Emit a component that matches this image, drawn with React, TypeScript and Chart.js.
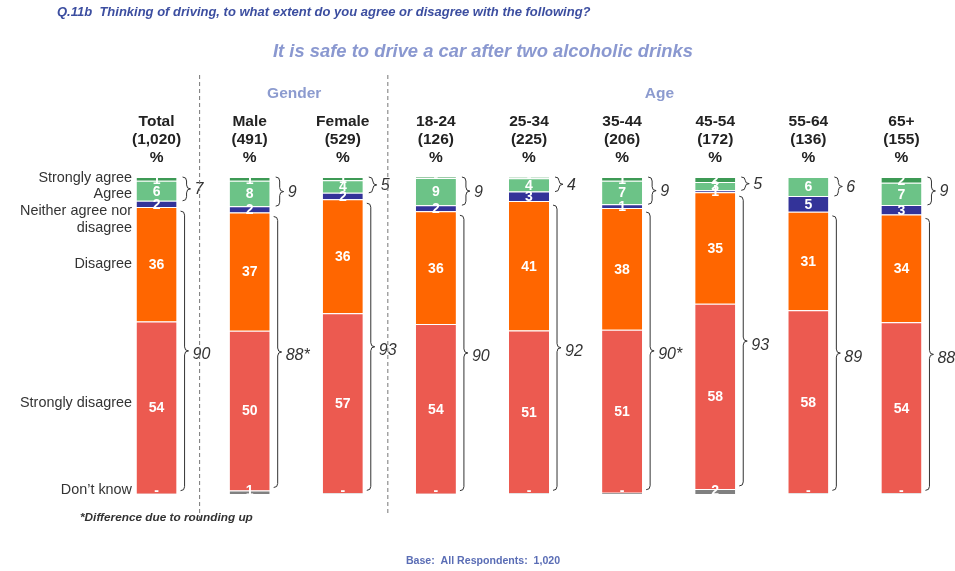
import React, { useEffect, useRef } from "react";
import { Chart, registerables } from "chart.js";

Chart.register(...registerables);

const categoryNames = ["Total", "Male", "Female", "18-24", "25-34", "35-44", "45-54", "55-64", "65+"];
const categoryBases = ["(1,020)", "(491)", "(529)", "(126)", "(225)", "(206)", "(172)", "(136)", "(155)"];

const stronglyAgree = [1.2, 1.2, 1.0, 0.3, 0.4, 1.2, 1.6, 0, 1.8];
const agree = [6.3, 8.0, 4.0, 8.6, 4.2, 7.4, 2.6, 6.0, 7.0];
const neither = [2.0, 2.0, 2.0, 1.9, 3.0, 1.2, 0.6, 5.0, 3.0];
const disagree = [36.1, 37.3, 36.0, 35.6, 40.8, 38.4, 35.2, 31.0, 34.0];
const stronglyDisagree = [54.3, 50.4, 56.8, 53.5, 51.4, 51.4, 58.4, 57.8, 54.0];
const dontKnow = [0.1, 1.1, 0.2, 0.1, 0.2, 0.4, 1.6, 0.2, 0.2];

const netAgree = ["7", "9", "5", "9", "4", "9", "5", "6", "9"];
const netDisagree = ["90", "88*", "93", "90", "92", "90*", "93", "89", "88"];

const seriesNames = ["Don\u2019t know", "Strongly disagree", "Disagree", "Neither agree nor disagree", "Agree", "Strongly agree"];
const seriesLabelLines = [["Don\u2019t know"], ["Strongly disagree"], ["Disagree"], ["Neither agree nor", "disagree"], ["Agree"], ["Strongly agree"]];
const seriesColors = ["#808080", "#ec5a50", "#ff6600", "#333399", "#6cc387", "#3d9a55"];

const questionText = "Q.11b  Thinking of driving, to what extent do you agree or disagree with the following?";
const titleText = "It is safe to drive a car after two alcoholic drinks";
const groupGender = "Gender";
const groupAge = "Age";
const footnoteText = "*Difference due to rounding up";
const baseText = "Base:  All Respondents:  1,020";

const FONT = "'Liberation Sans', Arial, Helvetica, sans-serif";

function curlyBrace(ctx: CanvasRenderingContext2D, x: number, y1: number, y2: number, w: number) {
  const ym = (y1 + y2) / 2;
  const r = Math.min(4, (y2 - y1) / 4);
  const xm = x + w / 2;
  ctx.beginPath();
  ctx.moveTo(x, y1);
  ctx.quadraticCurveTo(xm, y1, xm, y1 + r);
  ctx.lineTo(xm, ym - r);
  ctx.quadraticCurveTo(xm, ym, x + w, ym);
  ctx.quadraticCurveTo(xm, ym, xm, ym + r);
  ctx.lineTo(xm, y2 - r);
  ctx.quadraticCurveTo(xm, y2, x, y2);
  ctx.stroke();
}

const overlayPlugin = {
  id: "overlay",
  afterDraw(chart: any) {
    const ctx: CanvasRenderingContext2D = chart.ctx;
    const xs = chart.scales.x;
    const metas = chart.data.datasets.map((_: any, i: number) => chart.getDatasetMeta(i));
    ctx.save();

    // value labels
    ctx.font = `bold 14px ${FONT}`;
    ctx.fillStyle = "#ffffff";
    ctx.textAlign = "center";
    ctx.textBaseline = "middle";
    metas.forEach((m: any, di: number) => {
      const vals = chart.data.datasets[di].data as number[];
      m.data.forEach((el: any, i: number) => {
        const v = vals[i];
        if (!v) return;
        const t = v < 0.5 ? "-" : String(Math.round(v));
        let y = (el.y + el.base) / 2 + 1;
        if (di === 0) y = Math.min(y, el.base - 3);
        ctx.fillText(t, el.x, y);
      });
    });

    // braces
    ctx.strokeStyle = "#333333";
    ctx.lineWidth = 1;
    ctx.fillStyle = "#333333";
    ctx.font = `italic 16px ${FONT}`;
    ctx.textAlign = "left";
    categoryNames.forEach((_, i) => {
      const saEl = metas[5].data[i];
      const aEl = metas[4].data[i];
      const dEl = metas[2].data[i];
      const sdEl = metas[1].data[i];
      const right = aEl.x + aEl.width / 2;
      const top = Math.min(saEl.y, aEl.y);
      const aBottom = aEl.base;
      curlyBrace(ctx, right + 6, top, aBottom, 8);
      ctx.fillText(netAgree[i], right + 18, (top + aBottom) / 2 + 1);
      const y1 = dEl.y + 4;
      const y2 = sdEl.base - 3;
      curlyBrace(ctx, right + 4, y1, y2, 8);
      ctx.fillText(netDisagree[i], right + 16, (y1 + y2) / 2 + 4);
    });

    // left series labels anchored to Total bar
    ctx.font = `14.4px ${FONT}`;
    ctx.fillStyle = "#333333";
    ctx.textAlign = "right";
    const offsets = [-4, -5, 0, 7, 3, -1];
    seriesLabelLines.forEach((lines, di) => {
      const el = metas[di].data[0];
      let cy = (el.y + el.base) / 2 + offsets[di];
      if (di === 0) cy = el.base - 4;
      lines.forEach((ln, li) => ctx.fillText(ln, 132, cy + li * 17));
    });

    // dashed dividers
    const x0 = xs.getPixelForValue(0);
    const x1 = xs.getPixelForValue(1);
    const x2 = xs.getPixelForValue(2);
    const x3 = xs.getPixelForValue(3);
    const xEnd = xs.getPixelForValue(categoryNames.length - 1);
    const d1 = (x0 + x1) / 2 - 4;
    const d2 = (x2 + x3) / 2 - 2;
    ctx.strokeStyle = "#777777";
    ctx.setLineDash([4, 3]);
    ctx.beginPath();
    ctx.moveTo(d1 + 0.5, 75);
    ctx.lineTo(d1 + 0.5, 520);
    ctx.moveTo(d2 + 0.5, 75);
    ctx.lineTo(d2 + 0.5, 515);
    ctx.stroke();
    ctx.setLineDash([]);

    // group headers
    ctx.textAlign = "center";
    ctx.fillStyle = "#8c9bcf";
    ctx.font = `bold 15.5px ${FONT}`;
    ctx.fillText(groupGender, (x1 + x2) / 2 - 2, 94);
    ctx.fillText(groupAge, (d2 + xEnd + 30) / 2, 94);

    // title
    ctx.fillStyle = "#8a98d0";
    ctx.font = `bold italic 18.4px ${FONT}`;
    ctx.fillText(titleText, 483, 52);

    // question
    ctx.textAlign = "left";
    ctx.fillStyle = "#3c4ea0";
    ctx.font = `bold italic 13px ${FONT}`;
    ctx.fillText(questionText, 57, 12);

    // footnote
    ctx.fillStyle = "#333333";
    ctx.font = `bold italic 11.8px ${FONT}`;
    ctx.fillText(footnoteText, 80, 518);

    // base
    ctx.textAlign = "center";
    ctx.fillStyle = "#5a6db5";
    ctx.font = `bold 10.6px ${FONT}`;
    ctx.fillText(baseText, 483, 561);

    ctx.restore();
  },
};

export default function App() {
  const ref = useRef<HTMLCanvasElement>(null);
  useEffect(() => {
    document.body.style.margin = "0";
    const seriesData = [dontKnow, stronglyDisagree, disagree, neither, agree, stronglyAgree];
    const chart = new Chart(ref.current as HTMLCanvasElement, {
      type: "bar",
      data: {
        labels: categoryNames.map((n, i) => [n, categoryBases[i], "%"]),
        datasets: seriesData.map((d, i) => ({
          label: seriesNames[i],
          data: d,
          backgroundColor: seriesColors[i],
          borderColor: "#ffffff",
          borderWidth: { top: 1, bottom: 0, left: 0, right: 0 },
          borderSkipped: false,
          barPercentage: 1,
          categoryPercentage: 0.43,
        })),
      },
      options: {
        animation: false,
        responsive: true,
        maintainAspectRatio: false,
        layout: { padding: { left: 110, right: 7, top: 0, bottom: 77 } },
        plugins: { legend: { display: false }, tooltip: { enabled: false }, title: { display: false } },
        scales: {
          x: {
            stacked: true,
            position: "top",
            grid: { display: false, drawTicks: false },
            border: { display: false },
            ticks: {
              color: "#222222",
              font: { family: FONT, size: 15.5, weight: "bold", lineHeight: 1.16 },
              padding: 10,
              maxRotation: 0,
              autoSkip: false,
            },
            afterFit: (scale: any) => {
              scale.height = 177;
            },
          },
          y: { stacked: true, display: false, min: 0, max: 100 },
        },
      },
      plugins: [overlayPlugin],
    } as any);
    return () => chart.destroy();
  }, []);
  return (
    <div style={{ width: 955, height: 571, position: "relative" }}>
      <canvas ref={ref} />
    </div>
  );
}
